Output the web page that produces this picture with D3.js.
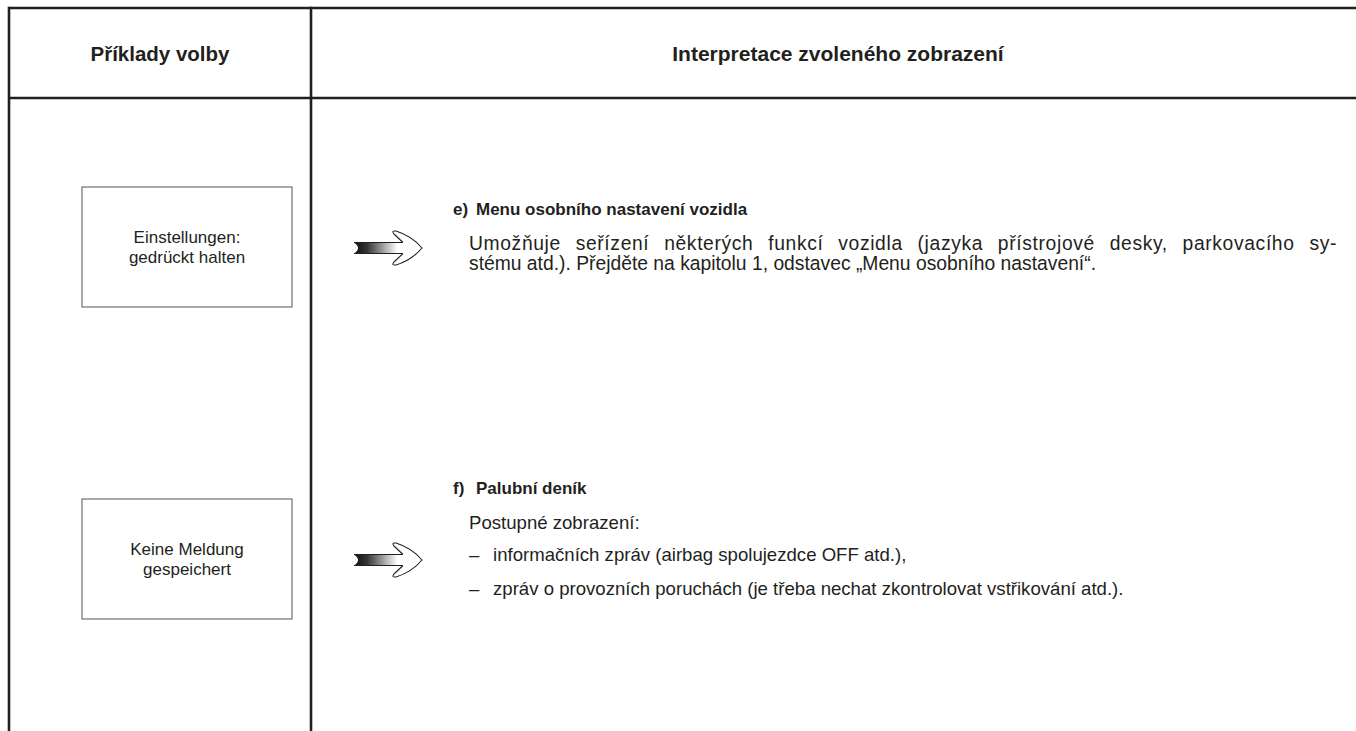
<!DOCTYPE html>
<html>
<head>
<meta charset="utf-8">
<script src="https://cdn.jsdelivr.net/npm/d3@7"></script>
<style>
  html, body { margin: 0; padding: 0; background: #fff; }
  svg { display: block; }
  text { font-family: "Liberation Sans", Arial, Helvetica, sans-serif; fill: #231f20; }
</style>
</head>
<body>
<svg id="chart" width="1356" height="731"></svg>
<script>
// ---- data ----
const headers = ["Příklady volby", "Interpretace zvoleného zobrazení"];
const rowIds = ["e", "f"];
const displayLabels = [
  ["Einstellungen:", "gedrückt halten"],
  ["Keine Meldung", "gespeichert"]
];
const itemLetters = ["e)", "f)"];
const itemTitles = ["Menu osobního nastavení vozidla", "Palubní deník"];
const itemParagraphs = [
  ["Umožňuje seřízení některých funkcí vozidla (jazyka přístrojové desky, parkovacího sy-",
   "stému atd.). Přejděte na kapitolu 1, odstavec „Menu osobního nastavení“."],
  ["Postupné zobrazení:"]
];
const itemBullets = [
  [],
  ["informačních zpráv (airbag spolujezdce OFF atd.),",
   "zpráv o provozních poruchách (je třeba nechat zkontrolovat vstřikování atd.)."]
];

// ---- layout ----
const W = 1356, H = 731;
const svg = d3.select("#chart");
const ink = "#231f20";

const xCol = d3.scaleOrdinal().domain([0, 1, 2]).range([9, 311, 1365]);
const headTop = 8, headBottom = 98;
const yRow = d3.scaleLinear().domain([0, 1]).range([247, 559]);

// grid lines
const g = svg.append("g");
g.append("line").attr("x1", 9).attr("x2", W).attr("y1", headTop).attr("y2", headTop)
  .attr("stroke", ink).attr("stroke-width", 2.6);
g.append("line").attr("x1", 9).attr("x2", W).attr("y1", headBottom).attr("y2", headBottom)
  .attr("stroke", ink).attr("stroke-width", 2.6);
[0, 1].forEach(i => {
  g.append("line").attr("x1", xCol(i)).attr("x2", xCol(i)).attr("y1", headTop - 1.3).attr("y2", H)
    .attr("stroke", ink).attr("stroke-width", 2.6);
});

// headers
const headSizes = [20.5, 21];
headers.forEach((h, i) => {
  svg.append("text")
    .attr("x", (xCol(i) + xCol(i + 1)) / 2)
    .attr("y", (headTop + headBottom) / 2)
    .attr("text-anchor", "middle").attr("dominant-baseline", "central")
    .attr("font-size", headSizes[i]).attr("font-weight", "bold")
    .text(h);
});

// gradient for arrow shafts
const defs = svg.append("defs");
const grad = defs.append("linearGradient").attr("id", "shaft").attr("x1", "0%").attr("x2", "100%");
grad.append("stop").attr("offset", "0%").attr("stop-color", "#111");
grad.append("stop").attr("offset", "25%").attr("stop-color", "#333");
grad.append("stop").attr("offset", "85%").attr("stop-color", "#fff");
grad.append("stop").attr("offset", "100%").attr("stop-color", "#fff");

const boxX0 = 82, boxX1 = 292, boxH = 120;
const arrowX = 354;
const textX = 453, titleX = 476, bodyX = 469, rightX = 1337;
const bodySizes = [19.3, 18.6], titleSize = 17;

rowIds.forEach((id, r) => {
  const cy = yRow(r);
  const bodySize = bodySizes[r];
  // display box
  svg.append("rect").attr("x", boxX0).attr("y", cy - boxH / 2)
    .attr("width", boxX1 - boxX0).attr("height", boxH)
    .attr("fill", "#fff").attr("stroke", "#6d6e71").attr("stroke-width", 1.2);
  const lbl = displayLabels[r];
  lbl.forEach((t, k) => {
    svg.append("text")
      .attr("x", (boxX0 + boxX1) / 2)
      .attr("y", cy + (k - (lbl.length - 1) / 2) * 20)
      .attr("text-anchor", "middle").attr("dominant-baseline", "central")
      .attr("font-size", 17)
      .text(t);
  });

  // arrow
  const a = svg.append("g").attr("transform", `translate(${arrowX},${cy + 1})`);
  a.append("path")
    .attr("d", "M0,-5.5 L51,-5.5 L51,5.5 L0,5.5 Q8,0 0,-5.5 Z")
    .attr("fill", "url(#shaft)");
  a.append("path").attr("d", "M0,-5.5 L50,-5.5 M0,5.5 L50,5.5")
    .attr("stroke", ink).attr("stroke-width", 1.1).attr("fill", "none");
  a.append("path")
    .attr("d", "M49,-5.5 L40,-14 Q37,-17.5 42,-17 Q58,-12 68,0 Q58,12 42,17 Q37,17.5 40,14 L49,5.5")
    .attr("fill", "#fff").attr("stroke", ink).attr("stroke-width", 1.1);

  // description
  const top = r === 0 ? cy - 38 : cy - 71;
  svg.append("text").attr("x", textX).attr("y", top)
    .attr("dominant-baseline", "central").attr("font-size", titleSize).attr("font-weight", "bold")
    .text(itemLetters[r]);
  svg.append("text").attr("x", titleX).attr("y", top)
    .attr("dominant-baseline", "central").attr("font-size", titleSize).attr("font-weight", "bold")
    .text(itemTitles[r]);

  let y = top + 34;
  const paras = itemParagraphs[r];
  paras.forEach((line, k) => {
    const t = svg.append("text").attr("x", bodyX).attr("y", y)
      .attr("dominant-baseline", "central").attr("font-size", bodySize)
      .text(line);
    if (paras.length > 1 && k < paras.length - 1) {
      // justify: spread extra room over word gaps and, a little, over letters
      const natural = t.node().getComputedTextLength();
      const gaps = (line.match(/ /g) || []).length;
      const extra = (rightX - bodyX) - natural;
      const ls = extra * 0.4 / (line.length - 1);
      t.attr("letter-spacing", ls);
      const natural2 = t.node().getComputedTextLength();
      const rest = (rightX - bodyX) - natural2;
      if (gaps > 0) t.attr("word-spacing", rest / gaps);
    }
    y += 20;
  });
  y += 12;
  itemBullets[r].forEach(line => {
    svg.append("text").attr("x", bodyX).attr("y", y)
      .attr("dominant-baseline", "central").attr("font-size", bodySize).text("–");
    svg.append("text").attr("x", bodyX + 24).attr("y", y)
      .attr("dominant-baseline", "central").attr("font-size", bodySize).text(line);
    y += 34;
  });
});
</script>
</body>
</html>
